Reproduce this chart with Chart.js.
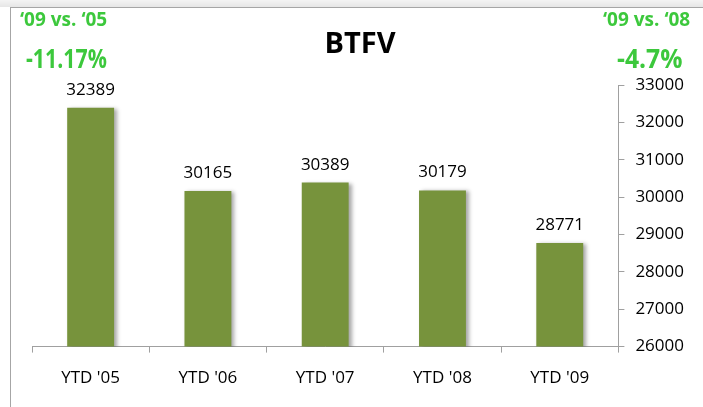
<!DOCTYPE html>
<html>
<head>
<meta charset="utf-8">
<script src="https://cdn.jsdelivr.net/npm/chart.js@4"></script>
<style>
  html, body { margin: 0; padding: 0; background: #fff; }
  #wrap { position: relative; width: 703px; height: 407px; overflow: hidden; font-family: "Open Sans", sans-serif; }
  #topband { position: absolute; left: 0; top: 0; width: 703px; height: 7px; background: linear-gradient(#f4f4f4, #e6e6e6); }
  #frame { position: absolute; left: 10px; top: 7px; width: 700px; height: 420px; border-left: 1px solid #a6a6a6; border-top: 1px solid #a6a6a6; }
  .txt { position: absolute; white-space: nowrap; line-height: 1; }
  .green { color: #3cc83c; font-weight: bold; }
  #titulo { left: 0; width: 720px; text-align: center; top: 27px; font-size: 29px; font-weight: bold; color: #000; }
  canvas { position: absolute; left: 0; top: 0; }
</style>
</head>
<body>
<div id="wrap">
  <div id="topband"></div>
  <div id="frame"></div>
  <canvas id="grafico" width="703" height="407"></canvas>
  <div class="txt" id="titulo">BTFV</div>
  <div class="txt green" style="left:20px; top:10px; font-size:19px;">‘09 vs. ‘05</div>
  <div class="txt green" style="left:26px; top:45px; font-size:26px; transform:scaleX(0.82); transform-origin:left top;">-11.17%</div>
  <div class="txt green" style="left:603px; top:10px; font-size:19px;">‘09 vs. ‘08</div>
  <div class="txt green" style="left:617px; top:45px; font-size:26px; transform:scaleX(0.95); transform-origin:left top;">-4.7%</div>
</div>
<script>
// dados do gráfico
const categorias = ["YTD '05", "YTD '06", "YTD '07", "YTD '08", "YTD '09"];
const valores = [32389, 30165, 30389, 30179, 28771];
const eixoMin = 26000;
const eixoMax = 33000;
const eixoPasso = 1000;

const corBarra = "#77933c";
const corEixo = "#a0a0a0";
const fonte = { family: "'Open Sans', sans-serif", size: 17 };

// sombra leve nas barras
const sombraBarras = {
  id: "sombraBarras",
  beforeDatasetsDraw(chart) {
    const ctx = chart.ctx;
    ctx.save();
    ctx.shadowColor = "rgba(0,0,0,0.35)";
    ctx.shadowBlur = 4;
    ctx.shadowOffsetX = 3;
    ctx.shadowOffsetY = 1;
  },
  afterDatasetsDraw(chart) {
    chart.ctx.restore();
  },
};

// valores por cima das barras
const rotulosValores = {
  id: "rotulosValores",
  afterDatasetsDraw(chart) {
    const ctx = chart.ctx;
    const meta = chart.getDatasetMeta(0);
    ctx.save();
    ctx.font = `${fonte.size}px ${fonte.family}`;
    ctx.fillStyle = "#000";
    ctx.textAlign = "center";
    ctx.textBaseline = "alphabetic";
    meta.data.forEach((bar, i) => {
      ctx.fillText(String(valores[i]), bar.x, bar.y - 13);
    });
    ctx.restore();
  },
};

new Chart(document.getElementById("grafico").getContext("2d"), {
  type: "bar",
  data: {
    labels: categorias,
    datasets: [
      {
        data: valores,
        backgroundColor: corBarra,
        barPercentage: 0.8,
        categoryPercentage: 0.5,
      },
    ],
  },
  options: {
    responsive: false,
    animation: false,
    layout: { padding: { left: 32, top: 85, right: 8, bottom: 4 } },
    plugins: { legend: { display: false }, tooltip: { enabled: false } },
    scales: {
      x: {
        grid: { drawOnChartArea: false, color: corEixo, tickLength: 6, offset: true },
        border: { color: corEixo },
        ticks: { color: "#000", font: fonte, padding: 15 },
      },
      y: {
        position: "right",
        min: eixoMin,
        max: eixoMax,
        grid: { drawOnChartArea: false, color: corEixo, tickLength: 6 },
        border: { color: corEixo },
        ticks: {
          color: "#000",
          font: fonte,
          padding: 11,
          stepSize: eixoPasso,
          callback: (v) => String(v),
        },
      },
    },
  },
  plugins: [sombraBarras, rotulosValores],
});
</script>
</body>
</html>
